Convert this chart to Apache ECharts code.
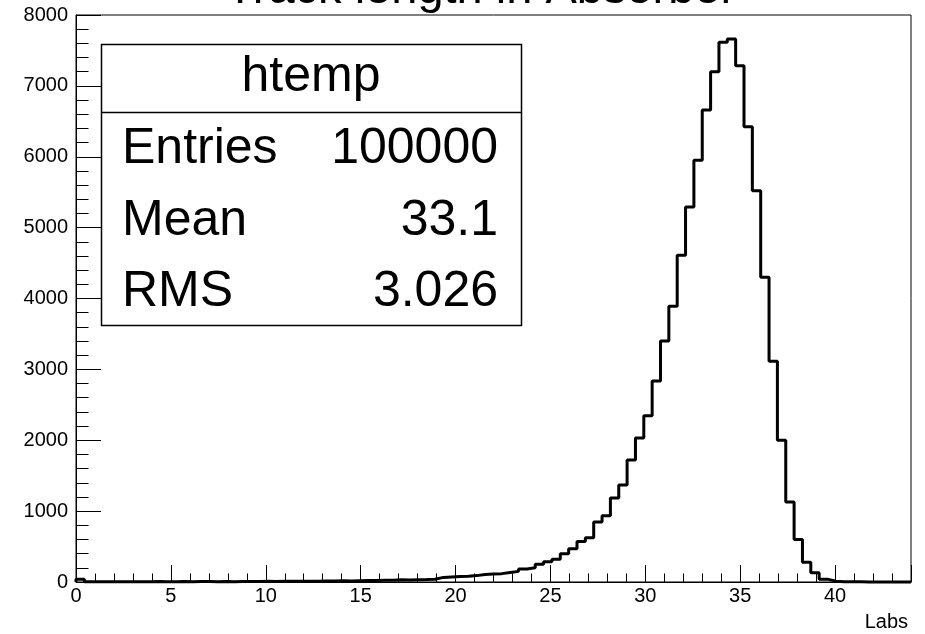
<!DOCTYPE html>
<html>
<head>
<meta charset="utf-8">
<script src="https://cdn.jsdelivr.net/npm/echarts@6/dist/echarts.min.js"></script>
<style>
html,body{margin:0;padding:0;background:#fff;}
#c{width:925px;height:634px;}
</style>
</head>
<body>
<div id="c"></div>
<script>
// ---- data ----
var title = 'Track length in Absorber';
var histName = 'htemp';
var statLabels = ['Entries', 'Mean', 'RMS'];
var statValues = ['100000', '33.1', '3.026'];
var xAxisTitle = 'Labs';
var xMin = 0, xMax = 44, binWidth = 0.44;
var counts = [
  40, 5, 4, 3, 5, 4, 3, 5, 4, 6,
  5, 4, 6, 5, 7, 6, 5, 7, 4, 6,
  8, 7, 9, 8, 10, 9, 11, 12, 10, 13,
  14, 16, 15, 18, 20, 22, 24, 26, 30, 28,
  32, 35, 40, 65, 72, 78, 82, 90, 105, 112,
  118, 135, 150, 185, 200, 250, 285, 320, 400, 470,
  570, 625, 845, 935, 1185, 1370, 1720, 2030, 2345, 2835,
  3400, 3890, 4610, 5290, 5950, 6660, 7200, 7615, 7660, 7285,
  6425, 5520, 4300, 3115, 2000, 1130, 600, 280, 130, 40,
  12, 5, 3, 2, 1, 1, 0, 0, 0, 0
];

// ---- build step line from bins ----
var pts = [[xMin, 0]];
for (var i = 0; i < counts.length; i++) {
  pts.push([xMin + i * binWidth, counts[i]]);
}
pts.push([xMax, counts[counts.length - 1]]);
pts.push([xMax, 0]);

var FONT = 'Liberation Sans';
var chart = echarts.init(document.getElementById('c'), null, {renderer: 'canvas'});

var graphics = [
  {type: 'text', x: 481, y: -10, style: {text: title, font: '47px "Liberation Sans"', fill: '#000', align: 'center', verticalAlign: 'middle'}},
  {type: 'rect', shape: {x: 101.5, y: 44.5, width: 420, height: 281}, style: {fill: '#fff', stroke: '#000', lineWidth: 1.5}, z: 100},
  {type: 'line', shape: {x1: 101.5, y1: 112.5, x2: 521.5, y2: 112.5}, style: {stroke: '#000', lineWidth: 1.5}, z: 101},
  {type: 'text', x: 311, y: 77, style: {text: histName, font: '50px "Liberation Sans"', fill: '#000', align: 'center', verticalAlign: 'middle'}, z: 102}
];
var rowY = [149, 221, 292];
for (var k = 0; k < statLabels.length; k++) {
  graphics.push({type: 'text', x: 122, y: rowY[k], style: {text: statLabels[k], font: '50px "Liberation Sans"', fill: '#000', align: 'left', verticalAlign: 'middle'}, z: 102});
  graphics.push({type: 'text', x: 498, y: rowY[k], style: {text: statValues[k], font: '50px "Liberation Sans"', fill: '#000', align: 'right', verticalAlign: 'middle'}, z: 102});
}
graphics.push({type: 'text', x: 908, y: 622, style: {text: xAxisTitle, font: '20px "Liberation Sans"', fill: '#000', align: 'right', verticalAlign: 'middle'}});

chart.setOption({
  animation: false,
  backgroundColor: '#fff',
  grid: {left: 76, right: 14, top: 15, bottom: 52, show: true, borderColor: '#000', borderWidth: 1, backgroundColor: 'transparent'},
  xAxis: {
    type: 'value', min: xMin, max: xMax, interval: 5,
    axisLine: {show: true, lineStyle: {color: '#000', width: 1}},
    axisTick: {show: true, inside: true, length: 17, lineStyle: {color: '#000', width: 1}},
    minorTick: {show: true, splitNumber: 5, length: 8.5, lineStyle: {color: '#000', width: 1}},
    splitLine: {show: false},
    axisLabel: {color: '#000', fontSize: 20, fontFamily: FONT, margin: 4, showMaxLabel: false,
      formatter: function (v) { return String(v); }}
  },
  yAxis: {
    type: 'value', min: 0, max: 8000, interval: 1000,
    axisLine: {show: true, lineStyle: {color: '#000', width: 1}},
    axisTick: {show: true, inside: true, length: 25, lineStyle: {color: '#000', width: 1}},
    minorTick: {show: true, splitNumber: 5, length: 12.5, lineStyle: {color: '#000', width: 1}},
    splitLine: {show: false},
    axisLabel: {color: '#000', fontSize: 20, fontFamily: FONT, margin: 8,
      formatter: function (v) { return String(v); }}
  },
  series: [{
    type: 'line', step: 'end', data: pts, symbol: 'none', clip: false,
    lineStyle: {color: '#000', width: 3}, z: 5
  }],
  graphic: graphics
});
</script>
</body>
</html>
